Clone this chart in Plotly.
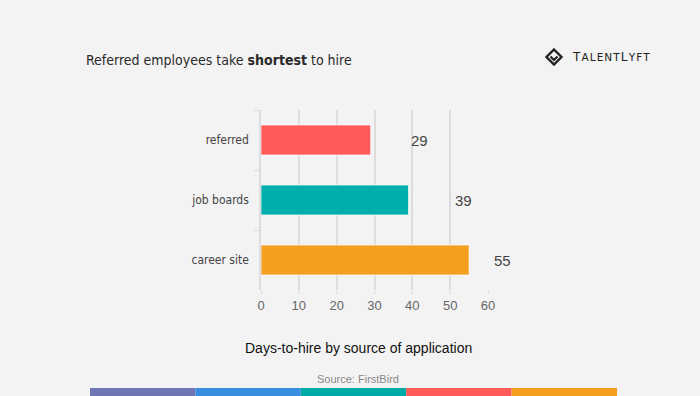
import plotly.graph_objects as go

categories = ["referred", "job boards", "career site"]
days = [29, 39, 55]
bar_colors = ["#ff5a5a", "#00aeaa", "#f59e1f"]
label_shift_px = [38, 44, 23]  # gap between bar end and value label
x_ticks = [0, 10, 20, 30, 40, 50, 60]
stripe_colors = ["#6e76b4", "#3a8ee2", "#00aaa6", "#ff5a5a", "#f59e1f"]

W, H = 700, 396
L, R, T, B = 261, 488, 110, 290
PW, PH = R - L, B - T

def fx(px):
    return (px - L) / PW

def fy(py):
    return (B - py) / PH

fig = go.Figure()
fig.add_trace(go.Bar(
    y=categories, x=days, orientation="h",
    marker=dict(color=bar_colors, line=dict(color="rgba(255,255,255,0.7)", width=1)),
    width=0.5, hoverinfo="skip",
))

annotations = []
for c, v, s in zip(categories, days, label_shift_px):
    annotations.append(dict(x=v, y=c, xref="x", yref="y", text=str(v), showarrow=False,
                            xanchor="left", xshift=s,
                            font=dict(family="Liberation Sans, Arial", size=15, color="#444444")))

COND = "DejaVu Sans Condensed, Liberation Sans Narrow, Roboto"
HS = "\u200a"
logo_text = "T" + HS + "<span style='font-size:10.5px'>" + HS.join("ALENT") + "</span>" + HS + "L" + HS + \
            "<span style='font-size:10.5px'>" + HS.join("YFT") + "</span>"
annotations += [
    dict(x=fx(84), y=fy(60), xref="paper", yref="paper", xanchor="left", yanchor="middle",
         text="Referred employees take <b>shortest</b> to hire", showarrow=False,
         font=dict(family=COND, size=14, color="#2a2a2a")),
    dict(x=fx(358), y=fy(348), xref="paper", yref="paper", xanchor="center", yanchor="middle",
         text="Days-to-hire by source of application", showarrow=False,
         font=dict(family="Liberation Sans, Arial", size=14, color="#111111")),
    dict(x=fx(358), y=fy(379), xref="paper", yref="paper", xanchor="center", yanchor="middle",
         text="Source: FirstBird", showarrow=False,
         font=dict(family="Liberation Sans, Arial", size=11, color="#8a8a8a")),
    dict(x=fx(570), y=fy(57), xref="paper", yref="paper", xanchor="left", yanchor="middle",
         text=logo_text, showarrow=False,
         font=dict(family="DejaVu Sans, Liberation Sans", size=12, color="#222222")),
]

shapes = []
x0 = 90
sw = (617 - 90) / len(stripe_colors)
for i, col in enumerate(stripe_colors):
    shapes.append(dict(type="rect", xref="paper", yref="paper",
                       x0=fx(x0 + i * sw), x1=fx(x0 + (i + 1) * sw), y0=fy(396), y1=fy(388),
                       line=dict(width=0), fillcolor=col, layer="below"))
cx, cy, r = 554, 57, 7.5
shapes.append(dict(type="path", xref="paper", yref="paper",
                   path=f"M {fx(cx)} {fy(cy - r)} L {fx(cx + r)} {fy(cy)} L {fx(cx)} {fy(cy + r)} L {fx(cx - r)} {fy(cy)} Z",
                   line=dict(color="#222222", width=2.4), fillcolor="rgba(0,0,0,0)"))
shapes.append(dict(type="path", xref="paper", yref="paper",
                   path=f"M {fx(cx - 3.5)} {fy(cy - 0.5)} L {fx(cx)} {fy(cy + 3)} L {fx(cx + 3.5)} {fy(cy - 0.5)}",
                   line=dict(color="#222222", width=2.2)))

fig.update_layout(
    width=W, height=H,
    margin=dict(l=L, r=W - R, t=T, b=H - B),
    paper_bgcolor="#f3f3f3", plot_bgcolor="rgba(0,0,0,0)",
    showlegend=False,
    annotations=annotations, shapes=shapes,
    xaxis=dict(range=[0, 60], tickvals=x_ticks, showgrid=True, gridcolor="#dcdcdc", gridwidth=1.5,
               zeroline=False, showline=False, ticks="outside", ticklen=3, tickcolor="#dcdcdc",
               tickfont=dict(family="Liberation Sans, Arial", size=13, color="#666666"), fixedrange=True),
    yaxis=dict(autorange="reversed", showline=True, linecolor="#dcdcdc", linewidth=1.5,
               ticks="outside", ticklen=5, tickcolor="#dcdcdc", tickson="boundaries",
               ticklabelstandoff=8,
               tickfont=dict(family=COND, size=12, color="#444444"),
               fixedrange=True),
)

fig.write_html("out.html", config={"displayModeBar": False},
               post_script="document.body.style.margin='0';document.body.style.background='#f3f3f3';")
